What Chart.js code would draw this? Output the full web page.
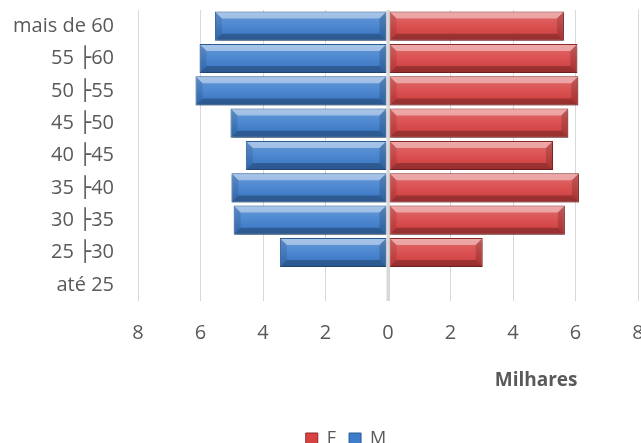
<!DOCTYPE html>
<html>
<head>
<meta charset="utf-8">
<script src="https://cdn.jsdelivr.net/npm/chart.js@4.4.0/dist/chart.umd.min.js"></script>
<style>
  html, body { margin: 0; padding: 0; background: #fff; }
  #wrap { width: 641px; height: 443px; }
</style>
</head>
<body>
<div id="wrap"><canvas id="pyramid" width="641" height="443"></canvas></div>
<script>
// faixas etárias, de cima para baixo
const faixas = ['mais de 60', '55 ├60', '50 ├55', '45 ├50', '40 ├45', '35 ├40', '30 ├35', '25 ├30', 'até 25'];
// valores em milhares
const feminino = [5.63, 6.06, 6.09, 5.77, 5.28, 6.11, 5.66, 3.03, 0];
const masculino = [5.54, 6.03, 6.16, 5.04, 4.55, 5.01, 4.94, 3.46, 0];
const xTicks = [-8, -6, -4, -2, 0, 2, 4, 6, 8];

const textColor = '#595959';
const gridColor = '#d9d9d9';
Chart.defaults.font.family = "'Open Sans', 'DejaVu Sans', sans-serif";

// fill a polygon on the canvas
const poly = (ctx, pts, color) => {
    ctx.beginPath();
    ctx.moveTo(pts[0][0], pts[0][1]);
    for (let i = 1; i < pts.length; i++) ctx.lineTo(pts[i][0], pts[i][1]);
    ctx.closePath();
    ctx.fillStyle = color;
    ctx.fill();
};

// bevel look + shadow for the bars, zero line on top, "Milhares" label
const bevelPlugin = {
    id: 'bevel',
    beforeDatasetsDraw(chart) {
        const ctx = chart.ctx;
        ctx.save();
        ctx.shadowColor = 'rgba(0,0,0,0.35)';
        ctx.shadowBlur = 3;
        ctx.shadowOffsetX = 1;
        ctx.shadowOffsetY = 2;
    },
    afterDatasetsDraw(chart) {
        const ctx = chart.ctx;
        ctx.restore();
        ctx.save();
        chart.data.datasets.forEach((ds, i) => {
            chart.getDatasetMeta(i).data.forEach(bar => {
                const {x, y, base, height} = bar.getProps(['x', 'y', 'base', 'height'], true);
                const l = Math.min(x, base) + 1, r = Math.max(x, base) - 1;
                const t = y - height / 2 + 1, b = y + height / 2 - 1;
                if (r - l < 2) return;
                const e = Math.min(6, (r - l) / 2);
                const g = ctx.createLinearGradient(0, t, 0, b);
                g.addColorStop(0, 'rgba(255,255,255,0.22)');
                g.addColorStop(0.5, 'rgba(255,255,255,0.08)');
                g.addColorStop(1, 'rgba(0,0,0,0.06)');
                poly(ctx, [[l, t], [r, t], [r, b], [l, b]], g);
                poly(ctx, [[l, t], [r, t], [r - e, t + e], [l + e, t + e]], 'rgba(255,255,255,0.42)');
                poly(ctx, [[l, b], [r, b], [r - e, b - e], [l + e, b - e]], 'rgba(0,0,0,0.25)');
                poly(ctx, [[l, t], [l + e, t + e], [l + e, b - e], [l, b]], 'rgba(0,0,0,0.10)');
                poly(ctx, [[r, t], [r - e, t + e], [r - e, b - e], [r, b]], 'rgba(0,0,0,0.16)');
            });
        });
        const xs = chart.scales.x;
        const z = xs.getPixelForValue(0);
        ctx.strokeStyle = gridColor;
        ctx.lineWidth = 3;
        ctx.beginPath();
        ctx.moveTo(z, chart.chartArea.top);
        ctx.lineTo(z, chart.chartArea.bottom);
        ctx.stroke();
        ctx.restore();
    },
    afterLayout(chart) {
        // Excel places the legend a bit right of centre and at the very bottom
        const lg = chart.legend;
        lg.left += 21; lg.right += 21;
        lg.top += 15; lg.bottom += 15;
    },
    afterDraw(chart) {
        const ctx = chart.ctx;
        const xs = chart.scales.x;
        ctx.save();
        ctx.font = "bold 19px 'Open Sans', 'DejaVu Sans', sans-serif";
        ctx.fillStyle = textColor;
        ctx.textAlign = 'right';
        ctx.textBaseline = 'middle';
        ctx.fillText('Milhares', xs.getPixelForValue(6) + 2, chart.chartArea.bottom + 80);
        ctx.restore();
    }
};

const ctx = document.getElementById('pyramid').getContext('2d');
const pyramid = new Chart(ctx, {
    type: 'bar',
    data: {
        labels: faixas,
        datasets: [{
            label: 'F',
            data: feminino,
            backgroundColor: '#d84242',
            borderColor: '#8e2a2a',
            borderWidth: 1,
            borderSkipped: false
        }, {
            label: 'M',
            data: masculino.map(v => -v),
            backgroundColor: '#3d7dcc',
            borderColor: '#2b5b94',
            borderWidth: 1,
            borderSkipped: false
        }]
    },
    options: {
        indexAxis: 'y',
        responsive: false,
        animation: false,
        layout: { padding: { left: 12, top: 10, right: 3, bottom: 0 } },
        datasets: { bar: { barPercentage: 0.9, categoryPercentage: 1 } },
        scales: {
            x: {
                stacked: true,
                min: -8,
                max: 8,
                afterBuildTicks: s => { s.ticks = xTicks.map(v => ({ value: v })); },
                afterFit: s => { s.paddingLeft = 0; s.paddingRight = 0; s.height = 101; },
                grid: {
                    color: gridColor,
                    lineWidth: c => (c.tick && c.tick.value === 0 ? 3 : 1),
                    drawTicks: false
                },
                border: { display: false },
                ticks: {
                    padding: 20,
                    color: textColor,
                    font: { size: 20 },
                    callback: v => Math.abs(v)
                }
            },
            y: {
                stacked: true,
                afterFit: s => { s.width = 126; s.paddingTop = 0; s.paddingBottom = 0; },
                grid: { display: false, drawTicks: false },
                border: { display: false },
                ticks: {
                    padding: 24,
                    color: textColor,
                    font: { size: 20 }
                }
            }
        },
        plugins: {
            legend: {
                position: 'bottom',
                labels: {
                    color: textColor,
                    font: { size: 18 },
                    boxWidth: 12,
                    boxHeight: 12,
                    padding: 13
                }
            },
            tooltip: { enabled: false }
        }
    },
    plugins: [bevelPlugin]
});
</script>
</body>
</html>
